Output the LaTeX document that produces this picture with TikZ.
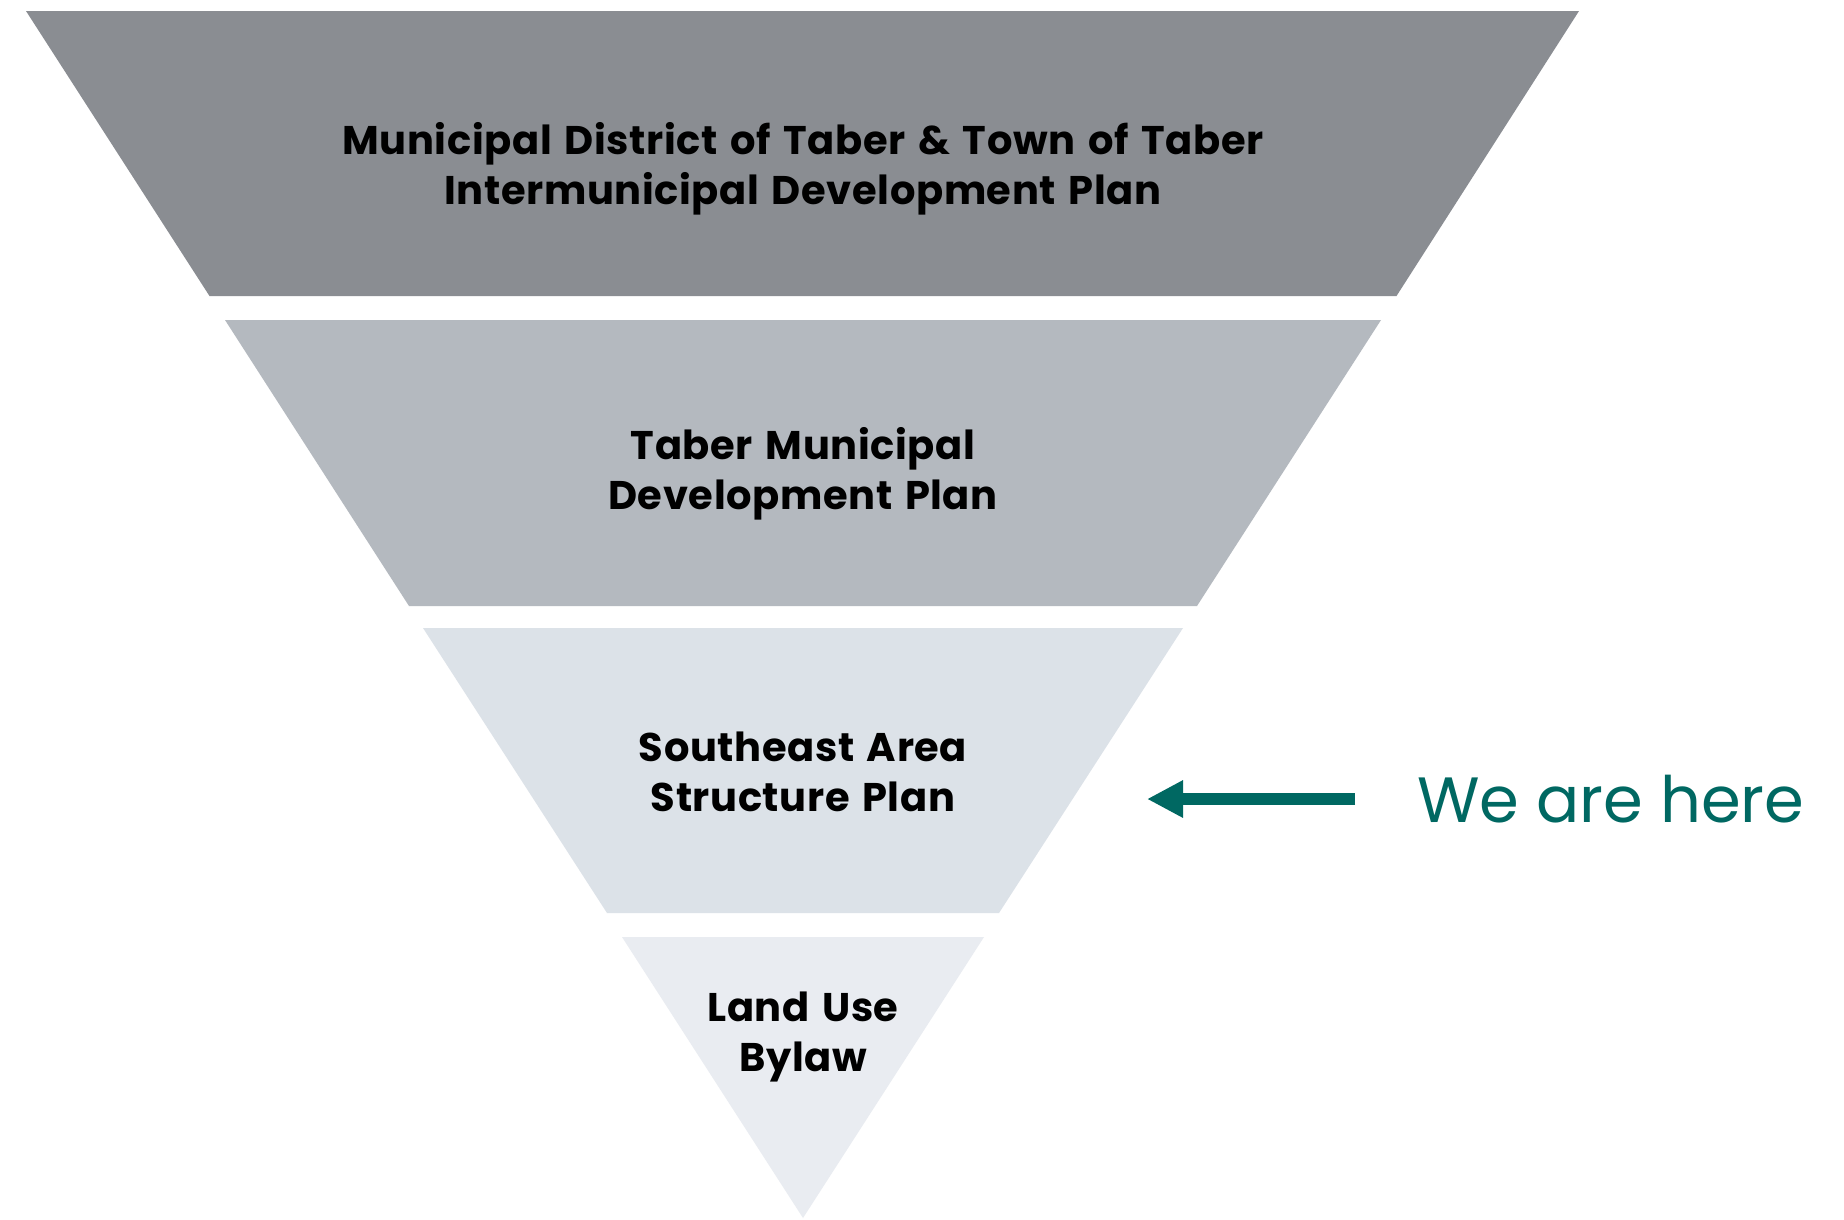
\documentclass[tikz,border=0pt]{standalone}
\usepackage{fontspec}
\setmainfont{Poppins}
\newfontfamily\lblfont[LetterSpace=1.5,WordSpace=1.4]{Poppins}
\usetikzlibrary{arrows.meta}
\definecolor{bandA}{RGB}{138,141,146}
\definecolor{bandB}{RGB}{180,185,191}
\definecolor{bandC}{RGB}{220,226,232}
\definecolor{bandD}{RGB}{233,236,241}
\definecolor{teal}{RGB}{0,104,98}
\tikzset{
  band/.style={draw=none},
  lbl/.style={anchor=base, align=center, font=\lblfont\fontsize{40}{50}\selectfont\bfseries, text=black, inner sep=0pt},
  here/.style={anchor=base west, font=\fontsize{64}{70}\selectfont, text=teal, inner sep=0pt},
  pointer/.style={draw=teal, line width=12pt, line cap=butt, -{Triangle[length=36pt,width=35pt]}}
}
\begin{document}
\begin{tikzpicture}[x=1pt,y=-1pt]
\useasboundingbox (0,0) rectangle (1844,1219);
\fill[white] (0,0) rectangle (1844,1219);
% bands: slices of one triangle, apex (803,1218), top half-width 777 at y=11
\fill[band, bandA] (26,11) -- (1579,11) -- (1396.5,296) -- (209.5,296) -- cycle;
\fill[band, bandB] (225,320) -- (1381,320) -- (1197,606) -- (409,606) -- cycle;
\fill[band, bandC] (423,628) -- (1183,628) -- (999,913) -- (607,913) -- cycle;
\fill[band, bandD] (622,937) -- (984,937) -- (803,1218) -- cycle;
% anchor=base sits on the last line's baseline
\node[lbl] (idp) at (803,204) {Municipal District of Taber \& Town of Taber\\Intermunicipal Development Plan};
\node[lbl] (mdp) at (803,509) {Taber Municipal\\Development Plan};
\node[lbl] (asp) at (803,811) {Southeast Area\\Structure Plan};
\node[lbl] (lub) at (803,1071) {Land Use\\Bylaw};
\node[here] (wah) at (1417,822) {We are here};
\coordinate (tail) at (1355,799);
\coordinate (tip) at (1147,799);
\draw[pointer] (tail) -- (tip);
\end{tikzpicture}
\end{document}
